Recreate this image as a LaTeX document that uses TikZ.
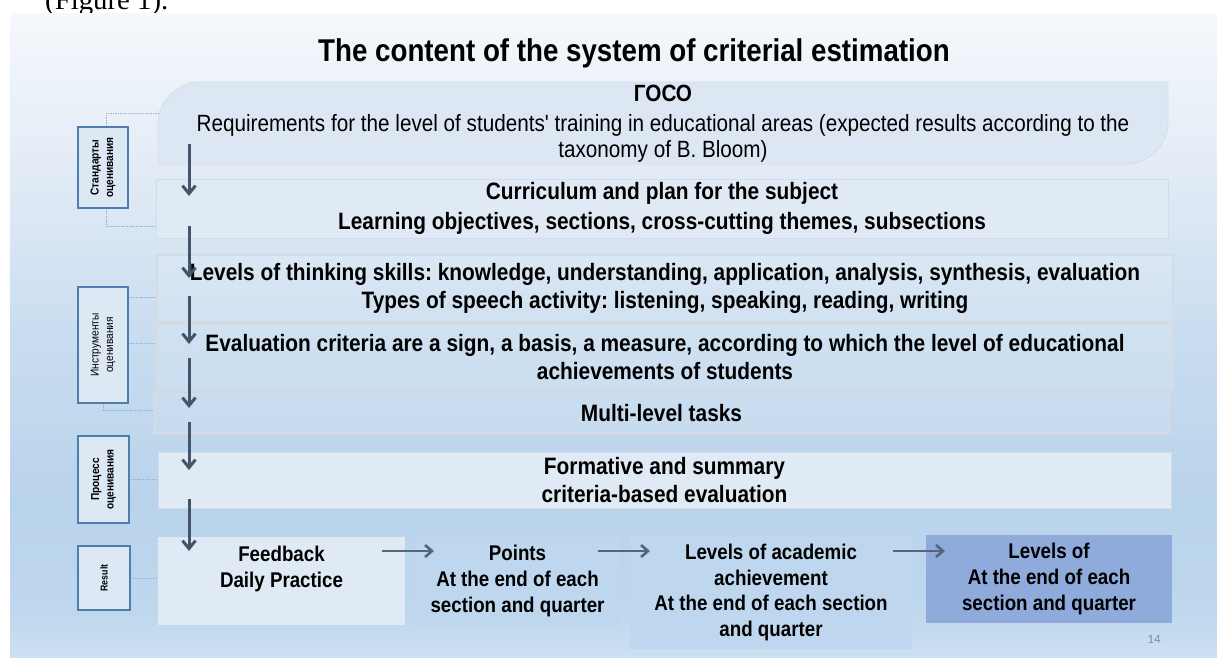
\documentclass[tikz,border=0pt]{standalone}
\usepackage{fontspec}
\setmainfont{Liberation Sans}[FakeStretch=0.88,Ligatures=TeXOff]
\newfontfamily\docserif{Liberation Serif}
\newfontfamily\pagefont{Carlito}
\usetikzlibrary{arrows.meta,calc}
\definecolor{bgA}{HTML}{F5F8FC}
\definecolor{bgB}{HTML}{E5EDF7}
\definecolor{bgC}{HTML}{CADDF0}
\definecolor{bgD}{HTML}{B9D3EB}
\definecolor{bgE}{HTML}{BED7ED}
\definecolor{bgF}{HTML}{CCE0F2}
\definecolor{gosofill}{HTML}{DCE7F3}
\definecolor{gosoline}{HTML}{D3DFEC}
\definecolor{lightfill}{HTML}{E0EAF5}
\definecolor{lightline}{HTML}{D2DDEA}
\definecolor{greyline}{HTML}{D5DBE3}
\definecolor{midfill}{HTML}{BFD7EE}
\definecolor{darkfill}{HTML}{8EABDC}
\definecolor{labfill}{HTML}{DDE8F5}
\definecolor{labline}{HTML}{4F7DAE}
\definecolor{dotc}{HTML}{8DB5E2}
\definecolor{arrowc}{HTML}{44546A}
\definecolor{pagec}{HTML}{8C8C8C}
\newcommand\bodyfont{\frenchspacing\fontsize{23.7}{27.5}\selectfont\bfseries}
\newcommand\rowfont{\frenchspacing\fontsize{21.3}{25.8}\selectfont\bfseries}
\begin{document}
\begin{tikzpicture}[x=1pt,y=-1pt,
  bodytext/.style={align=center,font=\rowfont,inner sep=0pt},
  lightbox/.style={draw=lightline,line width=0.8pt,fill=lightfill,inner sep=0pt,align=center,font=\bodyfont},
  greybox/.style={draw=greyline,line width=2.5pt,fill=white,fill opacity=0.12,text opacity=1,inner sep=0pt,align=center,font=\bodyfont},
  flatbox/.style={fill=#1,inner sep=0pt,align=center,font=\rowfont},
  labbox/.style={draw=labline,line width=1.3pt,fill=labfill,inner sep=0pt},
  labtext/.style={rotate=90,align=center,inner sep=0pt,font=\fontsize{11.5}{14.5}\selectfont\bfseries},
  dotconn/.style={draw=dotc,line width=1pt,dash pattern=on 1.5pt off 1pt},
  varrow/.style={draw=arrowc,line width=3pt,-{Straight Barb[length=8pt,width=13pt]}},
  harrow/.style={draw=arrowc!90!white,line width=2.6pt,-{Straight Barb[length=7pt,width=12pt]}}
]
\useasboundingbox (0,0) rectangle (1217,657);
\fill[white] (0,0) rectangle (1217,657);
\node[anchor=base west,inner sep=0pt,font=\docserif\fontsize{28.8}{30}\selectfont] (figref) at (45,9.5) {(Figure 1).};
% slide background
\shade[top color=bgA,bottom color=bgB] (10,13) rectangle (1217,150.5);
\shade[top color=bgB,bottom color=bgC] (10,150) rectangle (1217,330.5);
\shade[top color=bgC,bottom color=bgD] (10,330) rectangle (1217,500.5);
\shade[top color=bgD,bottom color=bgE] (10,500) rectangle (1217,610.5);
\shade[top color=bgE,bottom color=bgF] (10,610) rectangle (1217,657);
% title
\node[inner sep=0pt,font=\frenchspacing\fontsize{31.5}{36}\selectfont\bfseries] (title) at (634,53) {The content of the system of criterial estimation};
% GOSO box
\fill[gosofill,draw=gosoline,line width=0.8pt] (158,164) -- (158,122) .. controls (158,99.9) and (180.1,82) .. (198,82) -- (1168,82) -- (1168,124) .. controls (1168,146.1) and (1145.9,164) .. (1128,164) -- cycle;
\node[minimum width=1010pt,minimum height=82pt,inner sep=0pt] (goso) at (663,123) {};
\node[align=center,inner sep=0pt,font=\frenchspacing\fontsize{23.5}{26}\selectfont] (gosotext) at (663,124)
  {{\bfseries ГОСО}\\[4pt]Requirements for the level of students' training in educational areas (expected results according to the\\taxonomy of B. Bloom)};
% content boxes
\node[lightbox,minimum width=1012pt,minimum height=59pt] (cur) at (662,208.5)
  {Curriculum and plan for the subject\\[2pt]Learning objectives, sections, cross-cutting themes, subsections};
\node[greybox,minimum width=1016pt,minimum height=67pt] (lv) at (665,288.5)
  {Levels of thinking skills: knowledge, understanding, application, analysis, synthesis, evaluation\\Types of speech activity: listening, speaking, reading, writing};
\node[greybox,minimum width=1016pt,minimum height=66pt] (ev) at (665,357)
  {Evaluation criteria are a sign, a basis, a measure, according to which the level of educational\\achievements of students};
\node[greybox,minimum width=1015pt,minimum height=39pt] (ml) at (661.5,413.5) {Multi-level tasks};
\node[lightbox,minimum width=1013pt,minimum height=56pt] (fo) at (664.5,480)
  {Formative and summary\\criteria-based evaluation};
% bottom row
\node[flatbox=lightfill,minimum width=247pt,minimum height=88pt] (fb) at (281.5,581) {};
\node[bodytext] (fbtext) at (281.5,569) {Feedback\\Daily Practice};
\node[flatbox=midfill,minimum width=205pt,minimum height=88pt] (pt) at (517.5,581)
  {Points\\At the end of each\\section and quarter};
\node[flatbox=midfill,minimum width=282pt,minimum height=113pt] (la) at (771,592.5)
  {Levels of academic\\achievement\\At the end of each section\\and quarter};
\node[flatbox=darkfill,minimum width=246pt,minimum height=88pt] (lo) at (1049,579)
  {Levels of\\At the end of each\\section and quarter};
% left labels
\node[labbox,minimum width=50pt,minimum height=81pt] (stdbox) at (103,167.5) {};
\node[labtext] (stdtext) at (stdbox.center) {Стандарты\\оценивания};
\node[labbox,minimum width=50pt,minimum height=116pt] (insbox) at (103,345) {};
\node[labtext,font=\fontsize{11.5}{14.5}\selectfont] (instext) at (insbox.center) {Инструменты\\оценивания};
\node[labbox,minimum width=51pt,minimum height=87pt] (probox) at (103.5,479.5) {};
\node[labtext] (protext) at (probox.center) {Процесс\\оценивания};
\node[labbox,minimum width=52pt,minimum height=64pt] (resbox) at (104,578) {};
\node[labtext,font=\fontsize{10}{12}\selectfont\bfseries] (restext) at (resbox.center) {Result};
% dotted connectors
\draw[dotconn] ([xshift=3pt]stdbox.north) |- (goso.west |- 0,113);
\draw[dotconn] ([xshift=3pt]stdbox.south) |- (cur.west |- 0,226);
\draw[dotconn] (insbox.east |- 0,297) -- (lv.west |- 0,297);
\draw[dotconn] (insbox.east |- 0,343) -- (ev.west |- 0,343);
\draw[dotconn] (insbox.south) |- (ml.west |- 0,410);
\draw[dotconn] (probox.east |- 0,479) -- (fo.west |- 0,479);
\draw[dotconn] (resbox.east |- 0,578) -- (fb.west |- 0,578);
% vertical arrows
\coordinate (v1s) at (189,144); \coordinate (v1e) at (189,196);
\coordinate (v2s) at (189,226); \coordinate (v2e) at (189,278);
\coordinate (v3s) at (189,296); \coordinate (v3e) at (189,344);
\coordinate (v4s) at (189,358); \coordinate (v4e) at (189,408);
\coordinate (v5s) at (189,422); \coordinate (v5e) at (189,470);
\coordinate (v6s) at (189,499); \coordinate (v6e) at (189,551);
\foreach \i in {1,...,6} {\draw[varrow] (v\i s) -- (v\i e);}
% horizontal arrows
\coordinate (h1s) at (382,551); \coordinate (h1e) at (434,551);
\coordinate (h2s) at (598,551); \coordinate (h2e) at (650,551);
\coordinate (h3s) at (893,551); \coordinate (h3e) at (945,551);
\foreach \i in {1,2,3} {\draw[harrow] (h\i s) -- (h\i e);}
% page number
\node[inner sep=0pt,text=pagec,font=\pagefont\fontsize{13}{15}\selectfont] (pagenum) at (1154,639) {14};
\end{tikzpicture}
\end{document}
